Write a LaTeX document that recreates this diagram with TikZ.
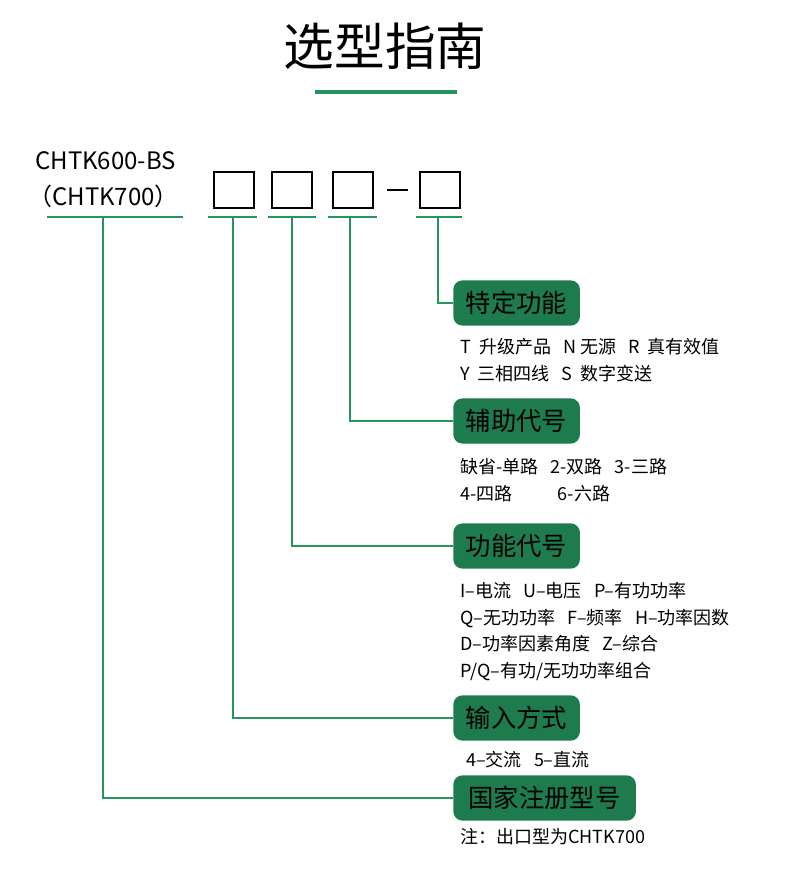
\documentclass[tikz,border=0pt]{standalone}
\usepackage{fontspec}
\setmainfont{Noto Sans CJK SC}
\definecolor{boxg}{HTML}{1E7B4E}
\definecolor{lineg}{HTML}{24965C}
\begin{document}
\begin{tikzpicture}[x=0.75pt,y=-0.75pt,
  gl/.style={draw=lineg,line width=2.2pt},
  sq/.style={draw=black,line width=0.8pt,minimum width=30pt,minimum height=27pt,inner sep=0pt},
  tag/.style={fill=boxg,rounded corners=7pt,text=black,font=\fontsize{19}{19}\selectfont,minimum height=34pt,inner sep=0pt,anchor=west},
  desc/.style={font=\fontsize{13.5}{20}\selectfont,anchor=north west,align=left,inner sep=0pt}]
\useasboundingbox (0,0) rectangle (790,891);
\node[font=\fontsize{38}{38}\selectfont] (title) at (385,46) {选型指南};
\draw[lineg,line width=3pt] (315,92) -- (457,92);
\node[font=\fontsize{18}{18}\selectfont,anchor=west,inner sep=0pt] (m1) at (35,161) {CHTK600-BS};
\node[font=\fontsize{18}{18}\selectfont,anchor=west,inner sep=0pt] (m2) at (28,196) {（CHTK700）};
\node[sq] (b1) at (234,190) {};
\node[sq] (b2) at (292,190) {};
\node[sq] (b3) at (353,190) {};
\node[sq] (b4) at (440,190) {};
\draw[line width=0.8pt] (387,190) -- (408,190);
\draw[gl,line width=1.6pt] (47,217) -- (183,217) (208,217) -- (257,217) (268,217) -- (316,217) (328,217) -- (377,217) (416,217) -- (462,217);
\node[tag,minimum width=95pt] (t1) at (453,303) {特定功能};
\node[tag,minimum width=95pt] (t2) at (453,421) {辅助代号};
\node[tag,minimum width=95pt] (t3) at (453,546) {功能代号};
\node[tag,minimum width=95pt] (t4) at (453,718) {输入方式};
\node[tag,minimum width=137pt] (t5) at (453,798) {国家注册型号};
\coordinate (c1) at (438,217); \coordinate (c2) at (350,217); \coordinate (c3) at (292,217);
\coordinate (c4) at (233,217); \coordinate (c5) at (103,217);
\draw[gl] (c1) |- (t1.west);
\draw[gl] (c2) |- (t2.west);
\draw[gl] (c3) |- (t3.west);
\draw[gl] (c4) |- (t4.west);
\draw[gl] (c5) |- (t5.west);
\node[desc] (d1) at (460,338) {T\ \ 升级产品\ \ \ N 无源\ \ \ R\ \ 真有效值\\Y\ \ 三相四线\ \ \ S\ \ 数字变送};
\node[desc] (d2) at (460,458) {缺省-单路\ \ \ 2-双路\ \ \ 3-三路\\4-四路\hspace{34pt}6-六路};
\node[desc] (d3) at (460,582) {I--电流\ \ \ U--电压\ \ \ P--有功功率\\Q--无功功率\ \ \ F--频率\ \ \ H--功率因数\\D--功率因素角度\ \ \ Z--综合\\P/Q--有功/无功功率组合};
\node[desc] (d4) at (466,751) {4--交流\ \ \ 5--直流};
\node[desc] (d5) at (460,828) {注：出口型为CHTK700};
\end{tikzpicture}
\end{document}
